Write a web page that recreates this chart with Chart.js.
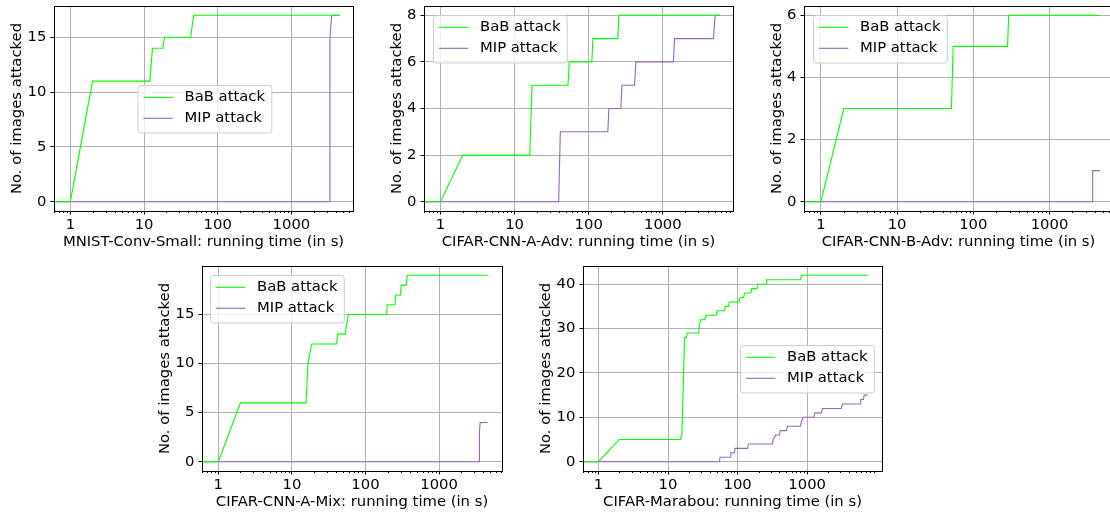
<!DOCTYPE html>
<html>
<head>
<meta charset="utf-8">
<script src="https://cdn.jsdelivr.net/npm/chart.js@4"></script>
<style>
body{margin:0;background:#fff;width:1110px;height:516px;overflow:hidden;position:relative}
canvas{position:absolute}
</style>
</head>
<body>
<script>
/* data: time (s) and cumulative count of attacked images */
const mnistBabT=[0.5,1,2,12,13,18,19,43,47,4570];
const mnistBabN=[0,0,11,11,14,14,15,15,17,17];
const mnistMipT=[0.5,3280,3330,3420,3520,4570];
const mnistMipN=[0,0,15,16,17,17];

const aAdvBabT=[0.5,1,2,16,17.2,52.5,54.7,110,114,247,255,5900];
const aAdvBabN=[0,0,2,2,5,5,6,6,7,7,8,8];
const aAdvMipT=[0.5,39.3,41.4,181,187,271,280,415,432,1390,1435,4810,5070,5900];
const aAdvMipN=[0,0,3,3,4,4,5,5,6,6,7,7,8,8];

const bAdvBabT=[0.5,1,2,51.7,54.4,282,291,4600];
const bAdvBabN=[0,0,3,3,5,5,6,6];
const bAdvMipT=[0.5,3655,3690,4600];
const bAdvMipN=[0,0,1,1];

const aMixBabT=[0.5,1,2,15.6,16.5,18.6,40.5,41.8,53.1,55.4,58.4,194,198,251,257,300,306,358,370,4590];
const aMixBabN=[0,0,6,6,10,12,12,13,13,14,15,15,16,16,17,17,18,18,19,19];
const aMixMipT=[0.5,3510,3540,3620,4590];
const aMixMipN=[0,0,3,4,4];

const marabouBabT=[0.5,1,2,15,15.85,17.3,18.3,19,27.4,28.5,29.2,34.1,35.3,49,50.7,64.4,66.5,74.3,76,105.5,109,122,126,155,160,190,193,258,262,803,830,7430];
const marabouBabN=[0,0,5,5,6,28,28,29,29,31,32,32,33,33,34,34,35,35,36,36,37,37,38,38,39,39,40,40,41,41,42,42];
const marabouMipT=[0.5,54.6,56,78.4,80,89.5,92,139,143,316,325,352,402,410,506,520,802,825,877,1242,1290,1600,1660,3090,3220,5770,5880,6440,6600,7430];
const marabouMipN=[0,0,1,1,2,2,3,3,4,4,5,6,6,7,7,8,8,9,10,10,11,11,12,12,13,13,14,14,15,15];

const xMajor=[1,10,100,1000];
const ticks8=[0,2,4,6,8];
const ticks6=[0,2,4,6];
const ticks15=[0,5,10,15];
const ticks40=[0,10,20,30,40];

const GREEN="#00ff00", PURPLE="#9467bd";
const FS=14.8;

Chart.defaults.font.family="'DejaVu Sans', sans-serif";
Chart.defaults.font.size=FS;
Chart.defaults.color="#000";

const panels=[
 {box:[54,6,353,211],x:[0.642,6845],y:[-0.85,17.85],yt:ticks15,bab:[mnistBabT,mnistBabN],mip:[mnistMipT,mnistMipN],leg:[83.5,79],tp:8.5,title:"MNIST-Conv-Small: running time (in s)"},
 {box:[424,6,733,211],x:[0.609,8830],y:[-0.4,8.4],yt:ticks8,bab:[aAdvBabT,aAdvBabN],mip:[aAdvMipT,aAdvMipN],leg:[9,9],tp:18,title:"CIFAR-CNN-A-Adv: running time (in s)"},
 {box:[804,6,1113,211],x:[0.618,6820],y:[-0.3,6.3],yt:ticks6,bab:[bAdvBabT,bAdvBabN],mip:[bAdvMipT,bAdvMipN],leg:[9,9],tp:18,title:"CIFAR-CNN-B-Adv: running time (in s)"},
 {box:[202,266,502,471],x:[0.633,7170],y:[-0.95,19.95],yt:ticks15,bab:[aMixBabT,aMixBabN],mip:[aMixMipT,aMixMipN],leg:[8,9],tp:8.5,title:"CIFAR-CNN-A-Mix: running time (in s)"},
 {box:[583,266,882,471],x:[0.637,11900],y:[-2.1,44.1],yt:ticks40,bab:[marabouBabT,marabouBabN],mip:[marabouMipT,marabouMipN],leg:[157,79],tp:8.5,title:"CIFAR-Marabou: running time (in s)"}
];

/* frame + minor log ticks */
const frame={
 id:"frame",
 afterDatasetsDraw(chart){
  const {ctx,chartArea:a,scales:{x}}=chart;
  ctx.save();
  ctx.strokeStyle="#000";ctx.lineWidth=1;
  ctx.beginPath();
  for(let d=Math.floor(Math.log10(x.min));d<=Math.ceil(Math.log10(x.max));d++){
   for(let k=2;k<10;k++){
    let v=k*Math.pow(10,d);
    if(v<=x.min||v>=x.max) continue;
    let px=Math.round(x.getPixelForValue(v))+0.5;
    ctx.moveTo(px,a.bottom);ctx.lineTo(px,a.bottom+2);
   }
  }
  ctx.stroke();
  ctx.strokeRect(Math.round(a.left)+0.5,Math.round(a.top)+0.5,Math.round(a.width),Math.round(a.height));
  ctx.restore();
 }
};

/* legend drawn inside the axes like matplotlib */
const boxLegend={
 id:"boxLegend",
 afterDatasetsDraw(chart,args,opts){
  const {ctx,chartArea:a}=chart;
  const ds=chart.data.datasets;
  ctx.save();
  ctx.font=FS+"px 'DejaVu Sans', sans-serif";
  let tw=Math.max(...ds.map(d=>ctx.measureText(d.label).width));
  let w=0.4*FS*2+2*FS+0.8*FS+tw, h=47.5;
  let x0=a.left+opts.x, y0=a.top+opts.y;
  ctx.beginPath();
  ctx.roundRect(x0+0.5,y0+0.5,w,h,3);
  ctx.fillStyle="rgba(255,255,255,0.8)";ctx.fill();
  ctx.strokeStyle="#cccccc";ctx.lineWidth=1;ctx.stroke();
  ds.forEach((d,i)=>{
   let cy=y0+12.3+i*21;
   ctx.strokeStyle=d.borderColor;ctx.lineWidth=d.borderWidth;
   ctx.beginPath();ctx.moveTo(x0+5.8,cy);ctx.lineTo(x0+5.8+2*FS,cy);ctx.stroke();
   ctx.fillStyle="#000";ctx.textBaseline="middle";ctx.textAlign="left";
   ctx.fillText(d.label,x0+47,cy);
  });
  ctx.restore();
 }
};

function pts(t,n){ return t.map((v,i)=>({x:v,y:n[i]})); }

function noPad(s){ s.paddingTop=0;s.paddingBottom=0;s.paddingLeft=0;s.paddingRight=0; }

function makeChart(p){
 const [l,t,r,b]=p.box;
 const cv=document.createElement("canvas");
 cv.width=r-l+54+6; cv.height=b-t+6+45;
 cv.style.left=(l-54)+"px"; cv.style.top=(t-6)+"px";
 document.body.appendChild(cv);
 new Chart(cv,{
  type:"line",
  data:{datasets:[
   {label:"BaB attack",data:pts(p.bab[0],p.bab[1]),borderColor:GREEN,borderWidth:1.1,pointRadius:0,tension:0,fill:false},
   {label:"MIP attack",data:pts(p.mip[0],p.mip[1]),borderColor:PURPLE,borderWidth:1.1,pointRadius:0,tension:0,fill:false}
  ]},
  options:{
   responsive:false,animation:false,devicePixelRatio:1,
   layout:{padding:{top:6,right:6,left:0,bottom:0}},
   plugins:{legend:{display:false},tooltip:{enabled:false},boxLegend:{x:p.leg[0],y:p.leg[1]}},
   scales:{
    x:{type:"logarithmic",min:p.x[0],max:p.x[1],
     afterBuildTicks:s=>{ s.ticks=xMajor.filter(v=>v>s.min&&v<s.max).map(v=>({value:v})); },
     afterFit:s=>{ s.height=45; noPad(s); },
     ticks:{callback:v=>String(v),autoSkip:false,maxRotation:0,padding:1.4,color:"#000"},
     grid:{color:"#b0b0b0",lineWidth:1,tickLength:3.5,tickColor:"#000"},
     border:{display:false},
     title:{display:true,text:p.title,color:"#000",padding:{top:0,bottom:4.9}}
    },
    y:{min:p.y[0],max:p.y[1],
     afterBuildTicks:s=>{ s.ticks=p.yt.map(v=>({value:v})); },
     afterFit:s=>{ s.width=54; noPad(s); },
     ticks:{padding:4.1,color:"#000"},
     grid:{color:"#b0b0b0",lineWidth:1,tickLength:3.5,tickColor:"#000"},
     border:{display:false},
     title:{display:true,text:"No. of images attacked",color:"#000",padding:{top:p.tp,bottom:0}}
    }
   }
  },
  plugins:[frame,boxLegend]
 });
}

panels.forEach(makeChart);
</script>
</body>
</html>
